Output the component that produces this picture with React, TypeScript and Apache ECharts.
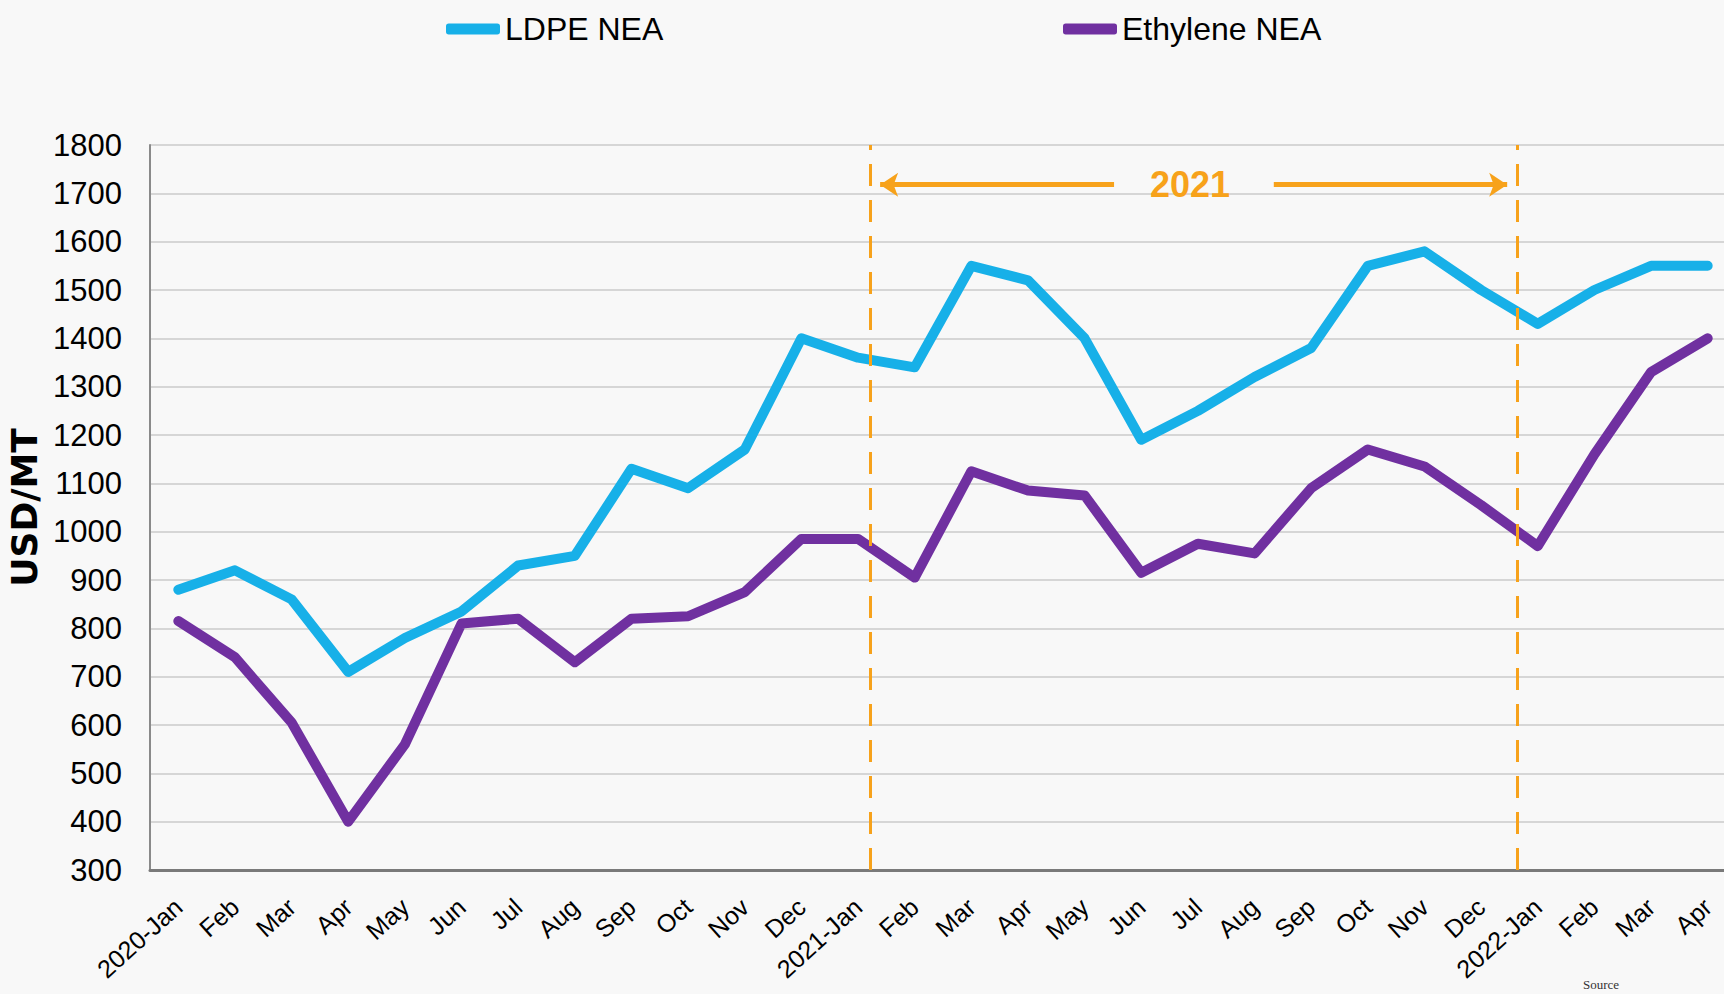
import React, { useEffect, useRef } from "react";
import * as echarts from "echarts";

const categories = [
  "2020-Jan", "Feb", "Mar", "Apr", "May", "Jun", "Jul", "Aug", "Sep", "Oct", "Nov", "Dec",
  "2021-Jan", "Feb", "Mar", "Apr", "May", "Jun", "Jul", "Aug", "Sep", "Oct", "Nov", "Dec",
  "2022-Jan", "Feb", "Mar", "Apr",
];

const ldpe = [
  880, 920, 860, 710, 780, 835, 930, 950, 1130, 1090, 1170, 1400,
  1360, 1340, 1550, 1520, 1400, 1190, 1250, 1320, 1380, 1550, 1580, 1500,
  1430, 1500, 1550, 1550,
];

const ethylene = [
  815, 740, 605, 400, 560, 810, 820, 730, 820, 825, 875, 985,
  985, 905, 1125, 1085, 1075, 915, 975, 955, 1090, 1170, 1135, 1055,
  970, 1160, 1330, 1400,
];

const yTicks = { min: 300, max: 1800, step: 100 };

// Annotation positions on a helper axis where category i spans [i, i+1]
const yearBounds = [12.71, 24.13];
const arrowLeft = [12.89, 17.02];
const arrowRight = [19.84, 23.96];
const arrowLevel = 1718;
const yearLabel = { text: "2021", at: 18.36 };

const FONT = "'Liberation Sans', Arial, sans-serif";
const ORANGE = "#f7a21b";

export default function App() {
  const ref = useRef<HTMLDivElement>(null);

  useEffect(() => {
    document.body.style.margin = "0";
    const chart = echarts.init(ref.current!, null, { renderer: "svg" });
    chart.setOption({
      animation: false,
      backgroundColor: "#f8f8f8",
      textStyle: { fontFamily: FONT },
      legend: [
        {
          data: ["LDPE NEA"],
          left: 441,
          top: 8,
          icon: "roundRect",
          itemWidth: 54,
          itemHeight: 11,
          textStyle: { fontFamily: FONT, fontSize: 32, color: "#000" },
        },
        {
          data: ["Ethylene NEA"],
          left: 1058,
          top: 8,
          icon: "roundRect",
          itemWidth: 54,
          itemHeight: 11,
          textStyle: { fontFamily: FONT, fontSize: 32, color: "#000" },
        },
      ],
      grid: { left: 150, right: -12, top: 145, bottom: 124, containLabel: false, outerBoundsMode: "none" },
      xAxis: [
        {
          type: "category",
          data: categories,
          boundaryGap: true,
          axisLine: { show: true, lineStyle: { color: "#7a7a7a", width: 3 } },
          axisTick: { show: false },
          axisLabel: {
            interval: 0,
            rotate: 42,
            margin: 33,
            fontSize: 25,
            color: "#000",
            fontFamily: FONT,
          },
          splitLine: { show: false },
        },
        {
          type: "value",
          min: 0,
          max: categories.length,
          show: false,
          splitLine: { show: false },
        },
      ],
      yAxis: {
        type: "value",
        min: yTicks.min,
        max: yTicks.max,
        interval: yTicks.step,
        name: "USD/MT",
        nameLocation: "middle",
        nameRotate: 90,
        nameGap: 102,
        nameTextStyle: {
          fontFamily: "'DejaVu Sans', sans-serif",
          fontWeight: "bold",
          fontSize: 36,
          color: "#000",
        },
        axisLine: { show: true, lineStyle: { color: "#8a8a8a", width: 2 } },
        axisTick: { show: false },
        axisLabel: {
          fontSize: 31,
          color: "#000",
          margin: 28,
          fontFamily: FONT,
          formatter: (v: number) => String(v),
        },
        splitLine: { show: true, lineStyle: { color: "#d6d6d6", width: 2 } },
      },
      series: [
        {
          name: "LDPE NEA",
          type: "line",
          data: ldpe,
          showSymbol: false,
          symbol: "none",
          color: "#17b0e8",
          lineStyle: { width: 10, color: "#17b0e8", cap: "round", join: "round" },
          z: 3,
        },
        {
          name: "Ethylene NEA",
          type: "line",
          data: ethylene,
          showSymbol: false,
          symbol: "none",
          color: "#7030a0",
          lineStyle: { width: 10, color: "#7030a0", cap: "round", join: "round" },
          z: 3,
        },
        {
          name: "annotations",
          type: "scatter",
          xAxisIndex: 1,
          yAxisIndex: 0,
          data: [[yearLabel.at, arrowLevel]],
          symbolSize: 0,
          silent: true,
          z: 2,
          markLine: {
            silent: true,
            animation: false,
            symbol: ["none", "none"],
            label: { show: false },
            data: [
              ...yearBounds.map((v) => ({
                xAxis: v,
                lineStyle: { color: ORANGE, width: 3, type: [22, 14] },
              })),
              [
                { coord: [arrowLeft[0], arrowLevel], symbol: "arrow", symbolSize: 18 },
                { coord: [arrowLeft[1], arrowLevel], symbol: "none" },
              ],
              [
                { coord: [arrowRight[0], arrowLevel], symbol: "none" },
                { coord: [arrowRight[1], arrowLevel], symbol: "arrow", symbolSize: 18 },
              ],
            ],
            lineStyle: { color: ORANGE, width: 5, type: "solid" },
          },
          markPoint: {
            silent: true,
            symbol: "circle",
            symbolSize: 0,
            data: [{ coord: [yearLabel.at, arrowLevel], value: yearLabel.text }],
            label: {
              show: true,
              position: "inside",
              formatter: yearLabel.text,
              fontFamily: FONT,
              fontWeight: "bold",
              fontSize: 36,
              color: ORANGE,
            },
          },
        },
      ],
      graphic: [
        {
          type: "text",
          left: 1583,
          top: 978,
          style: { text: "Source", fontSize: 13, fontFamily: "'Liberation Serif', serif", fill: "#333" },
        },
      ],
    });
    return () => chart.dispose();
  }, []);

  return <div ref={ref} style={{ width: 1724, height: 994 }} />;
}
